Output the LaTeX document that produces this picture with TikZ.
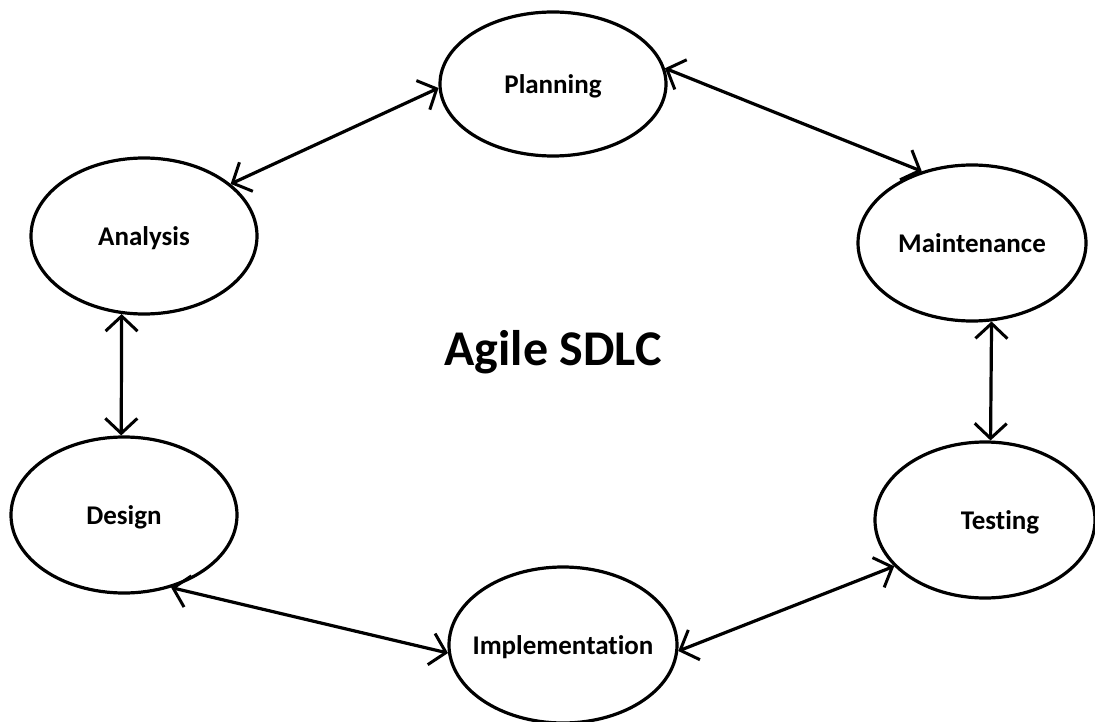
\documentclass[tikz,border=0pt]{standalone}
\usepackage{fontspec}
\setmainfont{Carlito}[Ligatures=NoCommon]
\usetikzlibrary{arrows.meta,shapes.geometric}
\begin{document}
\begin{tikzpicture}[x=1pt,y=-1pt,
  phase/.style={ellipse,draw,line width=3.2pt,inner ysep=0pt,inner xsep=-40pt,
    minimum width=226pt,minimum height=156pt,text depth=0pt,
    font=\fontsize{27}{30}\selectfont\bfseries},
  link/.style={line width=3.2pt,
    {Straight Barb[length=15pt,width=32pt,line width=3pt]}-{Straight Barb[length=15pt,width=32pt,line width=3pt]}}]
  \useasboundingbox (0,0) rectangle (1095,722);
  % the six phases of the cycle
  \node[phase,minimum height=144pt] (plan) at (553,84) {Planning};
  \node[phase] (ana)  at (144,236) {Analysis};
  \node[phase,minimum width=228pt] (mai)  at (972,243) {Maintenance};
  \node[phase,minimum width=220pt] (tes)  at (985,520) {\hspace*{30pt}Testing};
  \node[phase] (des)  at (124,515) {Design};
  \node[phase,minimum width=228pt] (imp)  at (563,645) {Implementation};
  % title in the middle
  \node[font=\fontsize{50}{54}\selectfont\bfseries] (title) at (553,352) {Agile SDLC};
  % two-way links between neighbouring phases
  \draw[link] (ana.31) -- (plan.182);
  \draw[link] (plan.8) -- (mai.125);
  \draw[link] (mai.-76) -- (tes.86);
  \draw[link] (tes.207) -- (imp.-3);
  \draw[link] (imp.184) -- (des.-57);
  \draw[link] (des.92) -- (ana.-106);
\end{tikzpicture}
\end{document}
